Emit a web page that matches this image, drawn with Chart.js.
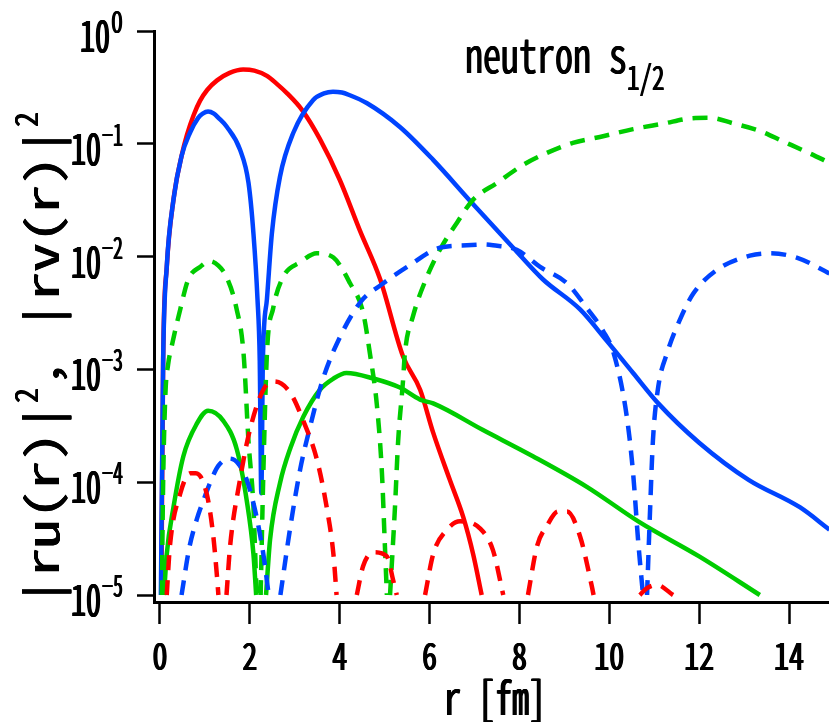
<!DOCTYPE html>
<html>
<head>
<meta charset="utf-8">
<script src="https://cdn.jsdelivr.net/npm/chart.js@4.4.1/dist/chart.umd.min.js"></script>
<style>
  html, body { margin: 0; padding: 0; background: #ffffff; }
  canvas { display: block; }
</style>
</head>
<body>
<canvas id="wf" width="829" height="722"></canvas>
<script>
// Radial densities of the neutron s1/2 state, r in fm.
// null values break a curve where it drops below the plotted floor.

const redSolidR = [0.03, 0.07, 0.15, 0.3, 0.48, 0.6, 0.75, 0.89, 1.05, 1.27, 1.55, 1.85, 2.1, 2.38, 2.6, 2.83, 3.16, 3.56, 4.0, 4.45, 4.9, 5.41, 5.79, 6.08, 6.45, 6.75, 6.97, 7.16];
const redSolidV = [1e-5, 1.2e-3, 8e-3, 3.2e-2, 7.8e-2, 0.12, 0.18, 0.24, 0.3, 0.365, 0.425, 0.455, 0.445, 0.4, 0.34, 0.28, 0.2, 0.11, 0.048, 0.017, 6.3e-3, 1.3e-3, 6.6e-4, 2.75e-4, 1.05e-4, 4.9e-5, 2.3e-5, 1e-5];

const blueSolidR = [0.02, 0.07, 0.15, 0.3, 0.48, 0.67, 0.85, 0.95, 1.07, 1.2, 1.3, 1.49, 1.78, 1.97, 2.08, 2.17, 2.22, 2.255, 2.29, 2.38, 2.49, 2.67, 2.97, 3.41, 3.65, 3.85, 4.05, 4.2, 4.6, 5.34, 6.08, 6.94, 7.86, 8.52, 9.35, 9.94, 10.53, 11.09, 12.0, 13.1, 14.24, 14.9];
const blueSolidV = [1e-5, 1.2e-3, 8.1e-3, 3.2e-2, 7.8e-2, 0.126, 0.17, 0.185, 0.193, 0.185, 0.17, 0.141, 0.089, 0.045, 0.016, 4.2e-3, 1.2e-3, 8e-5, 1.2e-3, 4.2e-3, 1.6e-2, 5.1e-2, 0.126, 0.245, 0.28, 0.29, 0.285, 0.272, 0.23, 0.141, 0.072, 0.03, 0.012, 6.3e-3, 3.4e-3, 1.8e-3, 9.3e-4, 5e-4, 2.24e-4, 1.05e-4, 6e-5, 3.8e-5];

const greenSolidR = [0.09, 0.15, 0.3, 0.52, 0.82, 1.07, 1.41, 1.71, 1.93, 2.08, 2.14, 2.25, 2.36, 2.45, 2.67, 2.9, 3.19, 3.56, 3.86, 4.15, 4.75, 5.34, 5.79, 6.08, 7.19, 8.3, 9.5, 10.68, 12.0, 13.35];
const greenSolidV = [1e-5, 2.3e-5, 6e-5, 1.7e-4, 3.3e-4, 4.3e-4, 3.5e-4, 1.95e-4, 6.9e-5, 2.3e-5, 1e-5, null, 1e-5, 3.1e-5, 9.8e-5, 2e-4, 3.8e-4, 6.6e-4, 8.3e-4, 9.3e-4, 8.3e-4, 6.9e-4, 5.4e-4, 5e-4, 2.9e-4, 1.7e-4, 9.1e-5, 4.4e-5, 2.2e-5, 1e-5];

const blueDashR = [0.48, 0.65, 0.82, 1.0, 1.12, 1.3, 1.55, 1.75, 1.93, 2.15, 2.3, 2.42, 2.55, 2.68, 2.9, 3.12, 3.34, 3.6, 3.86, 4.45, 4.97, 5.5, 6.23, 6.83, 7.2, 7.41, 7.94, 8.46, 9.06, 9.5, 9.86, 10.1, 10.39, 10.53, 10.64, 10.75, 10.8, 10.84, 10.91, 10.97, 11.08, 11.3, 11.57, 11.87, 12.39, 13.13, 13.58, 14.17, 14.9];
const blueDashV = [1e-5, 2.6e-5, 4.7e-5, 7.5e-5, 1e-4, 1.4e-4, 1.62e-4, 1.45e-4, 1.05e-4, 4.9e-5, 2.3e-5, 1e-5, null, 1e-5, 4e-5, 1.3e-4, 3.1e-4, 7.6e-4, 1.45e-3, 3.9e-3, 5.8e-3, 8.1e-3, 1.2e-2, 1.26e-2, 1.28e-2, 1.26e-2, 1.15e-2, 8.1e-3, 5.8e-3, 3.5e-3, 2.2e-3, 1.38e-3, 3.8e-4, 1.2e-4, 3.1e-5, 1e-5, null, 1e-5, 6e-5, 2.3e-4, 6.6e-4, 1.45e-3, 2.75e-3, 4.7e-3, 7.6e-3, 1.02e-2, 1.07e-2, 9.8e-3, 7.1e-3];

const greenDashR = [0.04, 0.07, 0.12, 0.18, 0.26, 0.45, 0.63, 0.89, 1.1, 1.3, 1.48, 1.7, 1.86, 1.97, 2.08, 2.15, 2.2, 2.24, 2.3, 2.38, 2.52, 2.74, 3.12, 3.49, 3.86, 4.23, 4.52, 4.67, 4.83, 4.94, 5.0, 5.05, 5.08, 5.12, 5.23, 5.3, 5.41, 5.45, 5.63, 5.94, 6.23, 6.61, 6.97, 7.5, 8.08, 8.61, 9.19, 9.79, 10.53, 11.2, 11.8, 12.24, 12.75, 13.35, 13.87, 14.47, 14.9];
const greenDashV = [1e-5, 1e-4, 6e-4, 1.1e-3, 1.6e-3, 3.4e-3, 6.3e-3, 8.1e-3, 9.1e-3, 8.3e-3, 6.6e-3, 3.5e-3, 1.38e-3, 2.3e-4, 6e-5, 1e-5, null, 1e-5, 1.2e-4, 1.38e-3, 3.5e-3, 6.6e-3, 8.9e-3, 1.07e-2, 9.8e-3, 5.8e-3, 3.2e-3, 1.4e-3, 4.7e-4, 1.2e-4, 3.1e-5, 1e-5, null, 1e-5, 6e-5, 2.3e-4, 8e-4, 1.38e-3, 2.95e-3, 6.6e-3, 1.15e-2, 2e-2, 3.2e-2, 4.5e-2, 6.5e-2, 8.3e-2, 0.102, 0.115, 0.135, 0.151, 0.168, 0.17, 0.152, 0.13, 0.105, 0.082, 0.068];

const redDashR = [0.15, 0.22, 0.45, 0.67, 0.8, 1.04, 1.18, 1.26, 1.3, 1.4, 1.48, 1.56, 1.78, 2.0, 2.3, 2.55, 2.9, 3.19, 3.49, 3.71, 3.86, 3.93, 4.2, 4.38, 4.52, 4.75, 5.05, 5.19, 5.27, 5.6, 5.9, 6.08, 6.39, 6.68, 7.12, 7.41, 7.64, 7.9, 8.19, 8.39, 8.61, 8.86, 9.06, 9.35, 9.61, 9.65, 10.2, 10.68, 10.84, 11.06, 11.42];
const redDashV = [1e-5, 2.7e-5, 7.9e-5, 1.2e-4, 1.2e-4, 7.9e-5, 3.5e-5, 1.6e-5, 1e-5, null, 1e-5, 2.7e-5, 1.05e-4, 2.9e-4, 6.6e-4, 7.8e-4, 6.2e-4, 3.5e-4, 1.6e-4, 6e-5, 2.3e-5, 1e-5, null, 1e-5, 1.8e-5, 2.4e-5, 2.2e-5, 1.35e-5, 1e-5, null, 1e-5, 2.3e-5, 3.8e-5, 4.5e-5, 3.9e-5, 2.5e-5, 1e-5, null, 1e-5, 2.7e-5, 4.1e-5, 5.5e-5, 5.5e-5, 3.3e-5, 1.2e-5, 1e-5, null, 1e-5, 1.15e-5, 1.23e-5, 1e-5];

// Axis ticks
const xTickValues = [0, 2, 4, 6, 8, 10, 12, 14];
const yTickExponents = [0, -1, -2, -3, -4, -5];

const titleText = 'neutron s';
const titleSub = '1/2';
const xTitle = 'r [fm]';

const RED = '#ff0000';
const BLUE = '#0044ff';
const GREEN = '#00cc00';
const DASH = [15, 10];

const X_MIN = -0.1335;
const X_MAX = 14.89;
const Y_MIN = Math.pow(10, -5.062);
const Y_MAX = 1;

const FONT = '"Noto Sans Mono CJK JP", "Noto Sans CJK JP", "DejaVu Sans Mono", monospace';

function pairUp(rs, vs) {
  return rs.map((r, i) => ({ x: r, y: vs[i] }));
}

function curve(rs, vs, color, dashed) {
  return {
    data: pairUp(rs, vs),
    borderColor: color,
    backgroundColor: color,
    borderWidth: 4.5,
    borderDash: dashed ? DASH : [],
    borderCapStyle: 'butt',
    borderJoinStyle: 'round',
    pointRadius: 0,
    fill: false,
    spanGaps: false,
    cubicInterpolationMode: 'monotone'
  };
}

// Text is drawn condensed to a fixed advance per character (narrow gothic look);
// `eb` widens the stems by repeating the fill with a small sideways offset.
function drawRuns(ctx, x, y, rot, runs) {
  ctx.save();
  ctx.translate(x, y);
  if (rot) ctx.rotate(rot);
  ctx.fillStyle = '#000';
  ctx.textAlign = 'left';
  ctx.textBaseline = 'alphabetic';
  let pos = 0;
  for (const run of runs) {
    ctx.font = (run.weight || 'normal') + ' ' + run.size + 'px ' + FONT;
    const w = ctx.measureText(run.t).width;
    const target = run.adv * run.t.length;
    const sx = target / w;
    const eb = run.eb || 0;
    ctx.save();
    ctx.translate(pos - eb / 2, run.dy || 0);
    ctx.scale(sx, 1);
    const steps = Math.max(1, Math.ceil(eb / 0.5));
    for (let k = 0; k <= steps; k++) {
      ctx.fillText(run.t, (eb * k / steps) / sx, 0);
    }
    ctx.restore();
    pos += target;
  }
  ctx.restore();
  return pos;
}

function runsWidth(runs) {
  return runs.reduce((s, r) => s + r.adv * r.t.length, 0);
}

const labelPlugin = {
  id: 'labels',
  afterDraw(chart) {
    const ctx = chart.ctx;
    const xs = chart.scales.x;
    const ys = chart.scales.y;

    // x tick labels
    for (const v of xTickValues) {
      const runs = [{ t: String(v), size: 38, adv: 15, eb: 1.4 }];
      const px = xs.getPixelForValue(v);
      drawRuns(ctx, px - runsWidth(runs) / 2, 670, 0, runs);
    }

    // y tick labels: 10 with a raised exponent
    for (const e of yTickExponents) {
      const py = ys.getPixelForValue(Math.pow(10, e));
      const sup = e === 0 ? '0' : '\u2212' + String(-e);
      const supRuns = [{ t: sup, size: 30, adv: e === 0 ? 12 : 10.5, eb: 1.0 }];
      const baseRuns = [{ t: '10', size: 43, adv: 15, eb: 1.5 }];
      const right = 123;
      const sw = runsWidth(supRuns);
      drawRuns(ctx, right - sw, py + 2, 0, supRuns);
      drawRuns(ctx, right - sw - runsWidth(baseRuns) - 1, py + 21, 0, baseRuns);
    }

    // panel title
    const endX = drawRuns(ctx, 465, 73, 0, [{ t: titleText, size: 48, adv: 18, eb: 1.0 }]);
    drawRuns(ctx, 465 + endX, 90, 0, [{ t: titleSub, size: 34, adv: 12.5, eb: 0.8 }]);

    // x axis title
    const xr = [{ t: xTitle, size: 46, adv: 17, eb: 1.4 }];
    drawRuns(ctx, 495 - runsWidth(xr) / 2, 715, 0, xr);

    // y axis title, reading upward
    const yr = [
      { t: '|ru(r)|', size: 44, adv: 29, eb: 1.2 },
      { t: '2', size: 32, adv: 15, dy: -21, eb: 0.8 },
      { t: ', ', size: 44, adv: 29, eb: 1.2 },
      { t: '|rv(r)|', size: 44, adv: 29, eb: 1.2 },
      { t: '2', size: 32, adv: 15, dy: -21, eb: 0.8 }
    ];
    drawRuns(ctx, 59, 606, -Math.PI / 2, yr);
  }
};

const axisGrid = (len) => ({
  display: true,
  drawOnChartArea: false,
  drawTicks: true,
  tickLength: len,
  tickWidth: 2.5,
  tickColor: '#000',
  color: '#000'
});

new Chart(document.getElementById('wf'), {
  type: 'line',
  data: {
    datasets: [
      curve(redDashR, redDashV, RED, true),
      curve(blueDashR, blueDashV, BLUE, true),
      curve(greenDashR, greenDashV, GREEN, true),
      curve(greenSolidR, greenSolidV, GREEN, false),
      curve(blueSolidR, blueSolidV, BLUE, false),
      curve(redSolidR, redSolidV, RED, false)
    ]
  },
  options: {
    responsive: false,
    devicePixelRatio: 1,
    animation: false,
    layout: { padding: { left: 137, top: 31, right: 0, bottom: 98 } },
    plugins: { legend: { display: false }, tooltip: { enabled: false }, title: { display: false } },
    scales: {
      x: {
        type: 'linear',
        min: X_MIN,
        max: X_MAX,
        afterBuildTicks: (s) => { s.ticks = xTickValues.map(v => ({ value: v })); },
        grid: axisGrid(22),
        border: { display: true, color: '#000', width: 3 },
        ticks: { display: false }
      },
      y: {
        type: 'logarithmic',
        min: Y_MIN,
        max: Y_MAX,
        afterBuildTicks: (s) => { s.ticks = yTickExponents.map(e => ({ value: Math.pow(10, e) })); },
        grid: axisGrid(17),
        border: { display: true, color: '#000', width: 3 },
        ticks: { display: false }
      }
    }
  },
  plugins: [labelPlugin]
});
</script>
</body>
</html>
